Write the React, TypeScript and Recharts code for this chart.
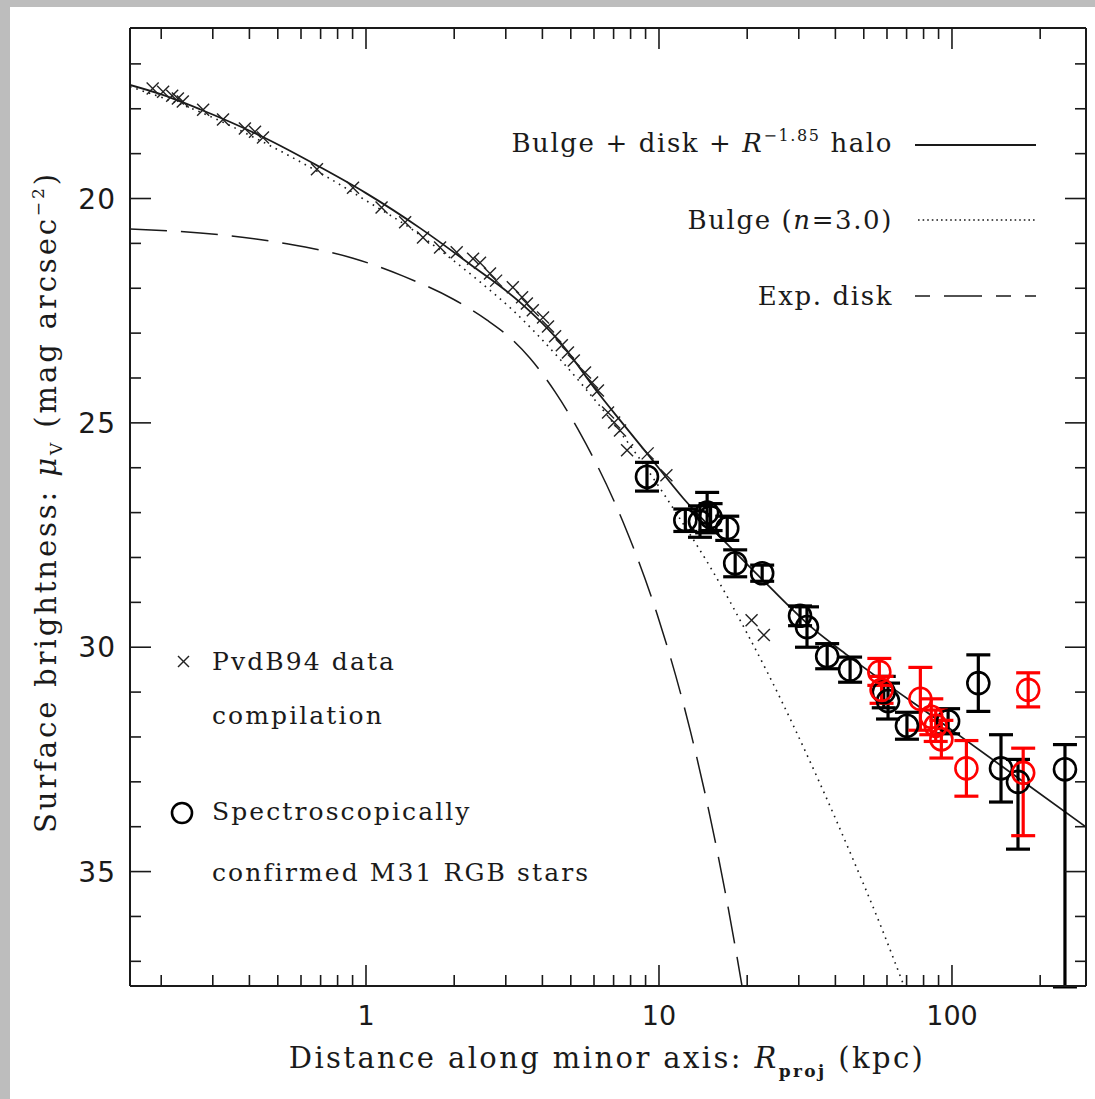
import React from 'react'
import {
  ComposedChart, Line, Scatter, ErrorBar, XAxis, YAxis,
} from 'recharts'

// model curves (R in kpc, mu in mag/arcsec^2)
const FIT_R = [0.1565, 0.198, 0.271, 0.445, 0.697, 1.0, 1.53, 2.26, 3.35, 4.59, 6.28, 7.36, 9.1, 12.1, 17.5, 23.4, 33.5, 43.8, 98.6, 290]
const FIT_MU = [17.47, 17.67, 18.01, 18.63, 19.3, 19.88, 20.66, 21.46, 22.31, 23.2, 24.38, 24.94, 25.68, 26.68, 27.77, 28.6, 29.58, 30.17, 31.82, 34.03]

const BULGE_R = [0.1565, 0.271, 0.445, 0.697, 1.056, 1.38, 1.79, 2.45, 3.17, 4.59, 6.8, 9.1, 11.8, 15.3, 19.95, 23.4, 35.4, 45.9, 56.8, 68.6, 74.8]
const BULGE_MU = [17.51, 18.07, 18.74, 19.43, 20.14, 20.61, 21.15, 21.86, 22.49, 23.58, 24.91, 26.03, 27.14, 28.32, 29.68, 30.55, 33.03, 34.72, 36.17, 37.55, 38.2]

const DISK_R = [0.1565, 0.318, 0.537, 0.903, 1.34, 1.98, 2.59, 3.1, 3.63, 4.42, 5.38, 7.54, 9.85, 12.8, 14.9, 16.9, 19.2, 19.6]
const DISK_MU = [20.68, 20.81, 21.01, 21.33, 21.73, 22.24, 22.71, 23.1, 23.56, 24.31, 25.23, 27.21, 29.26, 31.87, 33.74, 35.52, 37.55, 37.9]

// PvdB94 compilation (crosses)
const PVDB_R = [0.187, 0.203, 0.218, 0.228, 0.237, 0.278, 0.325, 0.386, 0.418, 0.445, 0.68, 0.903, 1.13, 1.36, 1.565, 1.79, 2.04, 2.32, 2.45, 2.65, 2.78, 3.17, 3.41, 3.54, 3.71, 4.02, 4.18, 4.42, 4.66, 4.89, 5.12, 5.59, 5.91, 6.19, 6.7, 7.03, 7.36, 7.78, 9.15, 10.6, 20.7, 22.8]
const PVDB_MU = [17.55, 17.62, 17.71, 17.77, 17.84, 18.02, 18.24, 18.44, 18.51, 18.64, 19.35, 19.76, 20.2, 20.53, 20.87, 21.09, 21.2, 21.34, 21.43, 21.67, 21.83, 21.98, 22.2, 22.34, 22.49, 22.65, 22.85, 23.07, 23.27, 23.43, 23.61, 23.88, 24.1, 24.28, 24.77, 24.99, 25.17, 25.61, 25.68, 26.17, 29.4, 29.73]

// spectroscopic RGB fields
const RGB_R = [9.1, 12.3, 13.8, 14.6, 15.0, 17.1, 18.2, 22.5, 30.3, 32.0, 37.5, 44.9, 58.5, 60.5, 70.2, 97, 123, 147, 168, 243]
const RGB_MU = [26.2, 27.17, 27.2, 27.0, 27.1, 27.35, 28.13, 28.35, 29.3, 29.55, 30.2, 30.5, 31.0, 31.2, 31.75, 31.65, 30.8, 32.7, 33.0, 32.72]
const RGB_ERR: (number | number[])[] = [0.32, 0.25, 0.35, 0.45, 0.3, 0.27, 0.3, 0.18, 0.22, 0.45, 0.28, 0.28, 0.35, 0.4, 0.3, 0.28, 0.63, 0.75, [0.5, 1.5], [0.55, 4.85]]

const NEW_R = [56.5, 57.5, 78, 85, 88, 92, 112, 175, 182]
const NEW_MU = [30.55, 30.95, 31.15, 31.55, 31.75, 32.05, 32.7, 32.8, 30.95]
const NEW_ERR: (number | number[])[] = [0.3, 0.3, 0.7, 0.4, 0.35, 0.42, 0.62, [0.55, 1.4], 0.38]

const X_TICKS = [0.2, 0.3, 0.4, 0.5, 0.6, 0.7, 0.8, 0.9, 1, 2, 3, 4, 5, 6, 7, 8, 9, 10, 20, 30, 40, 50, 60, 70, 80, 90, 100, 200]
const X_MAJOR = [1, 10, 100]
const Y_TICKS = [17, 18, 19, 20, 21, 22, 23, 24, 25, 26, 27, 28, 29, 30, 31, 32, 33, 34, 35, 36, 37]
const Y_MAJOR = [20, 25, 30, 35]

const zip = (xs: number[], ys: number[]) => xs.map((x, i) => ({ x, y: ys[i] }))
const fitData = zip(FIT_R, FIT_MU)
const bulgeData = zip(BULGE_R, BULGE_MU)
const diskData = zip(DISK_R, DISK_MU)
const pvdbData = zip(PVDB_R, PVDB_MU)
const rgbData = RGB_R.map((x, i) => ({ x, y: RGB_MU[i], err: RGB_ERR[i] }))
const newData = NEW_R.map((x, i) => ({ x, y: NEW_MU[i], err: NEW_ERR[i] }))

const SERIF = '"DejaVu Serif", serif'
const SANS = '"DejaVu Sans", sans-serif'
const INK = '#1a1a1a'

function XTick(props: any) {
  const { x, y, payload, side } = props
  const major = X_MAJOR.includes(payload.value)
  const len = major ? 21 : 11
  const dir = side === 'bottom' ? -1 : 1
  return (
    <g>
      <line x1={x} x2={x} y1={y} y2={y + dir * len} stroke={INK} strokeWidth={1.6} />
      {side === 'bottom' && major && (
        <text x={x} y={y + 39} textAnchor="middle" fontFamily={SANS} fontSize={27} fill={INK}>
          {payload.value}
        </text>
      )}
    </g>
  )
}

function YTick(props: any) {
  const { x, y, payload, side } = props
  const major = Y_MAJOR.includes(payload.value)
  const len = major ? 21 : 11
  const dir = side === 'left' ? 1 : -1
  return (
    <g>
      <line x1={x} x2={x + dir * len} y1={y} y2={y} stroke={INK} strokeWidth={1.6} />
      {side === 'left' && major && (
        <text x={x - 14} y={y + 10} textAnchor="end" fontFamily={SANS} fontSize={28} fill={INK} letterSpacing={1}>
          {payload.value}
        </text>
      )}
    </g>
  )
}

const Cross = (p: any) => (
  <g stroke="#222" strokeWidth={1.4}>
    <line x1={p.cx - 6} y1={p.cy - 6} x2={p.cx + 6} y2={p.cy + 6} />
    <line x1={p.cx - 6} y1={p.cy + 6} x2={p.cx + 6} y2={p.cy - 6} />
  </g>
)

const Ring = (color: string) => (p: any) => (
  <circle cx={p.cx} cy={p.cy} r={11} fill="none" stroke={color} strokeWidth={2.6} />
)

const W = 1095
const H = 1099

export default function App() {
  const axisLine = { stroke: INK, strokeWidth: 2 }
  return (
    <div style={{ position: 'absolute', left: 0, top: 0, width: W, height: H, background: '#bdbdbd' }}>
      <div style={{ position: 'absolute', left: 10, top: 7, width: W - 10, height: H - 7, background: '#fff' }} />
      <div style={{ position: 'absolute', left: 0, top: 0 }}>
        <ComposedChart width={W} height={H} margin={{ top: 27, right: 8, bottom: 112, left: 129 }}>
          <XAxis xAxisId="b" type="number" dataKey="x" scale="log" domain={[0.1565, 286.7]} allowDataOverflow
            ticks={X_TICKS} interval={0} height={1} tickSize={0} tickMargin={0} tickLine={false}
            axisLine={axisLine} tick={<XTick side="bottom" />} />
          <XAxis xAxisId="t" orientation="top" type="number" dataKey="x" scale="log" domain={[0.1565, 286.7]} allowDataOverflow
            ticks={X_TICKS} interval={0} height={1} tickSize={0} tickMargin={0} tickLine={false}
            axisLine={axisLine} tick={<XTick side="top" />} />
          <YAxis yAxisId="l" type="number" domain={[16.2, 37.55]} reversed allowDataOverflow
            ticks={Y_TICKS} interval={0} width={1} tickSize={0} tickMargin={0} tickLine={false}
            axisLine={axisLine} tick={<YTick side="left" />} />
          <YAxis yAxisId="r" orientation="right" type="number" domain={[16.2, 37.55]} reversed allowDataOverflow
            ticks={Y_TICKS} interval={0} width={1} tickSize={0} tickMargin={0} tickLine={false}
            axisLine={axisLine} tick={<YTick side="right" />} />

          <Line xAxisId="b" yAxisId="l" data={diskData} dataKey="y" type="monotone" dot={false}
            stroke={INK} strokeWidth={1.5} strokeDasharray="37 14" isAnimationActive={false} />
          <Line xAxisId="b" yAxisId="l" data={bulgeData} dataKey="y" type="monotone" dot={false}
            stroke={INK} strokeWidth={1.6} strokeDasharray="1.6 5" isAnimationActive={false} />
          <Line xAxisId="b" yAxisId="l" data={fitData} dataKey="y" type="monotone" dot={false}
            stroke={INK} strokeWidth={1.8} isAnimationActive={false} />

          <Scatter xAxisId="b" yAxisId="l" data={pvdbData} dataKey="y" shape={Cross} isAnimationActive={false} />
          <Scatter xAxisId="b" yAxisId="l" data={rgbData} dataKey="y" shape={Ring('#000')} isAnimationActive={false}>
            <ErrorBar dataKey="err" direction="y" width={12} stroke="#000" strokeWidth={3.2} />
          </Scatter>
          <Scatter xAxisId="b" yAxisId="l" data={newData} dataKey="y" shape={Ring('#f00')} isAnimationActive={false}>
            <ErrorBar dataKey="err" direction="y" width={12} stroke="#f00" strokeWidth={3.2} />
          </Scatter>
        </ComposedChart>
      </div>

      <svg width={W} height={H} style={{ position: 'absolute', left: 0, top: 0, pointerEvents: 'none' }}>
        {/* legend, top right */}
        <g fontFamily={SERIF} fontSize={26} fill={INK} textAnchor="end" letterSpacing={1.6}>
          <text x={893} y={152}>
            Bulge + disk + <tspan fontStyle="italic">R</tspan>
            <tspan fontSize={16} dy={-11}>−1.85</tspan>
            <tspan dy={11}> halo</tspan>
          </text>
          <text x={893} y={229}>Bulge (<tspan fontStyle="italic">n</tspan>=3.0)</text>
          <text x={893} y={305}>Exp. disk</text>
        </g>
        <line x1={915} x2={1036} y1={145} y2={145} stroke={INK} strokeWidth={1.8} />
        <line x1={918} x2={1036} y1={220} y2={220} stroke={INK} strokeWidth={1.6} strokeDasharray="1.6 3" />
        <line x1={915} x2={1036} y1={296} y2={296} stroke={INK} strokeWidth={1.5} strokeDasharray="15 14 38 14" />

        {/* symbol key, lower left */}
        <g stroke="#222" strokeWidth={1.4}>
          <line x1={178} y1={656} x2={189} y2={667} />
          <line x1={178} y1={667} x2={189} y2={656} />
        </g>
        <circle cx={182} cy={813} r={10} fill="none" stroke="#000" strokeWidth={2.6} />
        <g fontFamily={SERIF} fontSize={25} fill={INK} letterSpacing={2.1}>
          <text x={212} y={670}>PvdB94 data</text>
          <text x={212} y={724}>compilation</text>
          <text x={212} y={820}>Spectroscopically</text>
          <text x={212} y={881}>confirmed M31 RGB stars</text>
        </g>

        {/* axis titles */}
        <text x={607} y={1068} textAnchor="middle" fontFamily={SERIF} fontSize={29} fill={INK} letterSpacing={2.4}>
          Distance along minor axis: <tspan fontStyle="italic">R</tspan>
          <tspan fontSize={17} fontWeight="bold" dy={9}>proj</tspan>
          <tspan dy={-9}> (kpc)</tspan>
        </text>
        <text transform="translate(56,502) rotate(-90)" textAnchor="middle" fontFamily={SERIF} fontSize={29} fill={INK} letterSpacing={2.9}>
          Surface brightness: <tspan fontStyle="italic">μ</tspan>
          <tspan fontSize={17} dy={6}>V</tspan>
          <tspan dy={-6}> (mag arcsec</tspan>
          <tspan fontSize={17} dy={-12}>−2</tspan>
          <tspan dy={12}>)</tspan>
        </text>
      </svg>
    </div>
  )
}
